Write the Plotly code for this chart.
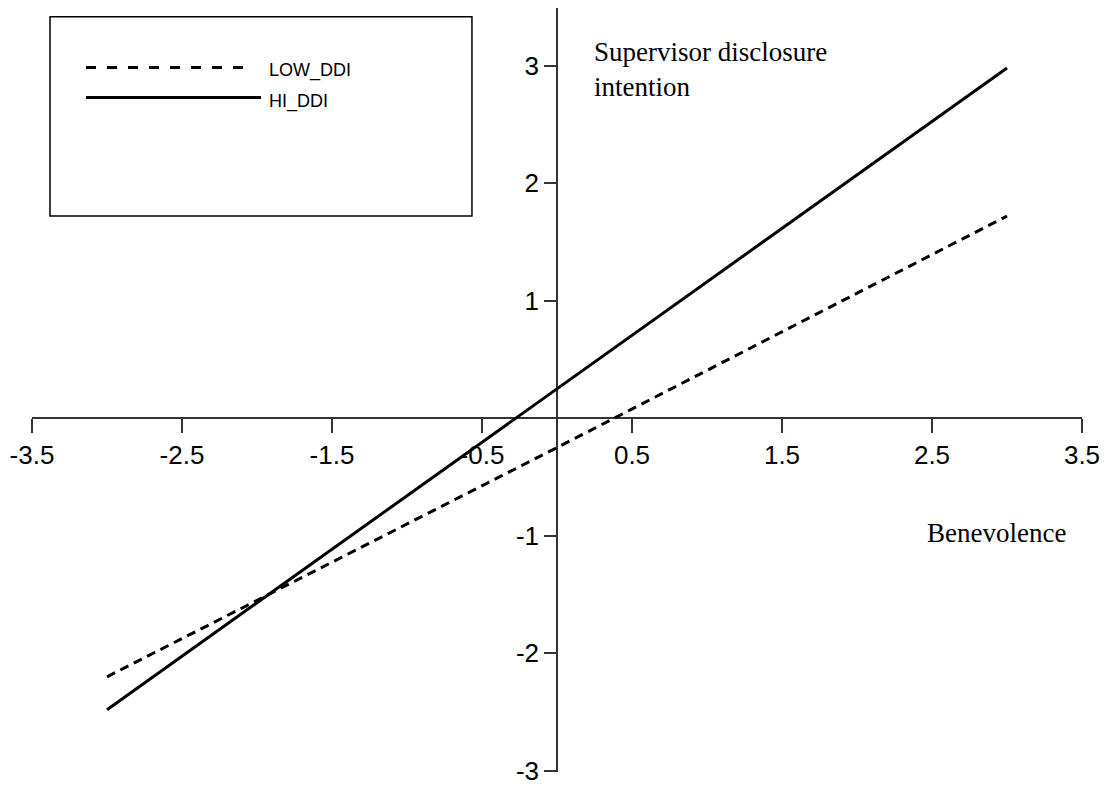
import plotly.graph_objects as go

# ---- data ----
benevolence = [-3.0, 0.0, 3.0]
low_ddi = [-2.20, -0.25, 1.72]
hi_ddi = [-2.48, 0.25, 2.98]
series_names = ["LOW_DDI", "HI_DDI"]
x_ticks = [-3.5, -2.5, -1.5, -0.5, 0.5, 1.5, 2.5, 3.5]
x_tick_text = ["-3.5", "-2.5", "-1.5", "-0.5", "0.5", "1.5", "2.5", "3.5"]
y_ticks = [-3, -2, -1, 1, 2, 3]
y_tick_text = ["-3", "-2", "-1", "1", "2", "3"]

X_RANGE = [-3.5, 3.5]
Y_RANGE = [-3.01, 3.49]

fig = go.Figure()
fig.add_trace(go.Scatter(x=benevolence, y=low_ddi, mode="lines", name=series_names[0],
                         line=dict(color="black", width=3, dash="9px,6px"), showlegend=False))
fig.add_trace(go.Scatter(x=benevolence, y=hi_ddi, mode="lines", name=series_names[1],
                         line=dict(color="black", width=3), showlegend=False))

# zero position of each axis in normalized plot coordinates
x_axis_pos = (0 - Y_RANGE[0]) / (Y_RANGE[1] - Y_RANGE[0])
y_axis_pos = (0 - X_RANGE[0]) / (X_RANGE[1] - X_RANGE[0])

tick_font = dict(family="Liberation Sans, Arial", size=26, color="black")

fig.update_layout(
    width=1111, height=787,
    margin=dict(l=32, r=29, t=8, b=15),
    paper_bgcolor="white", plot_bgcolor="white",
    showlegend=False,
    xaxis=dict(range=X_RANGE, anchor="free", position=x_axis_pos,
               showline=True, linecolor="#333", linewidth=1.5,
               ticks="outside", ticklen=14, tickwidth=1.5, tickcolor="#333",
               tickvals=x_ticks, ticktext=x_tick_text, tickfont=tick_font,
               ticklabeloverflow="allow",
               showgrid=False, zeroline=False, automargin=False, layer="below traces"),
    yaxis=dict(range=Y_RANGE, anchor="free", position=y_axis_pos,
               showline=True, linecolor="#333", linewidth=1.5,
               ticks="outside", ticklen=12, tickwidth=1.5, tickcolor="#333",
               tickvals=y_ticks, ticktext=y_tick_text, tickfont=tick_font,
               ticklabeloverflow="allow",
               showgrid=False, zeroline=False, automargin=False, layer="below traces"),
)

serif = dict(family="Liberation Serif, Times New Roman", size=27, color="black")
fig.add_annotation(x=0.23, y=2.97, xref="x", yref="y", xanchor="left", yanchor="middle",
                   text="Supervisor disclosure<br>intention", showarrow=False, font=serif, align="left")
fig.add_annotation(x=2.45, y=-0.975, xref="x", yref="y", xanchor="left", yanchor="middle",
                   text="Benevolence", showarrow=False, font=serif, align="left")

# manual legend box
fig.add_shape(type="rect", xref="x", yref="y", x0=-3.38, x1=-0.567, y0=1.72, y1=3.415,
              line=dict(color="black", width=1.5), fillcolor="rgba(0,0,0,0)")
fig.add_shape(type="line", xref="x", yref="y", x0=-3.14, x1=-2.067, y0=2.983, y1=2.983,
              line=dict(color="black", width=3, dash="10px,11px"))
fig.add_shape(type="line", xref="x", yref="y", x0=-3.14, x1=-1.973, y0=2.729, y1=2.729,
              line=dict(color="black", width=3))
leg_font = dict(family="Liberation Sans, Arial", size=18, color="black")
fig.add_annotation(x=-1.933, y=2.958, xref="x", yref="y", xanchor="left", yanchor="middle",
                   text=series_names[0], showarrow=False, font=leg_font)
fig.add_annotation(x=-1.933, y=2.695, xref="x", yref="y", xanchor="left", yanchor="middle",
                   text=series_names[1], showarrow=False, font=leg_font)

fig.write_html("out.html")
